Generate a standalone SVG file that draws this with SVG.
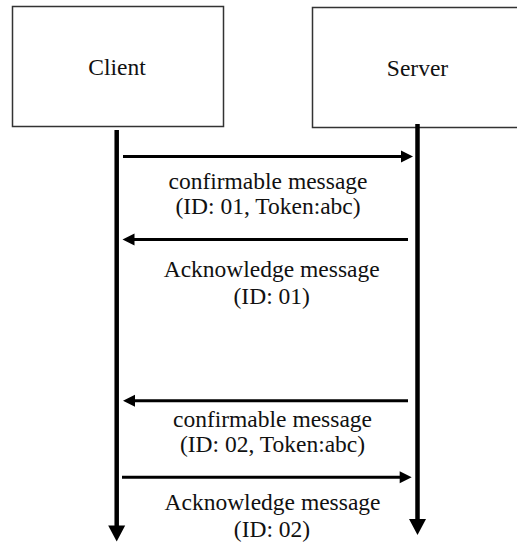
<svg xmlns="http://www.w3.org/2000/svg" width="517" height="544" viewBox="0 0 517 544">
<style>
.box{fill:#fff;stroke:#333;stroke-width:1.5}
.t{font-family:'Liberation Serif','Times New Roman',serif;font-size:23.5px;fill:#111;text-anchor:middle}
.msg{stroke:#000;stroke-width:3;fill:none}
.life{stroke:#000;stroke-width:4.5;fill:none}
</style>
<defs>
<marker id="ah" markerUnits="userSpaceOnUse" markerWidth="13" markerHeight="13" refX="6" refY="6" orient="auto" overflow="visible">
<path d="M0,0 L12,6 L0,12 z" fill="#000"/>
</marker>
<marker id="lh" markerUnits="userSpaceOnUse" markerWidth="18" markerHeight="18" refX="8" refY="8.5" orient="auto" overflow="visible">
<path d="M0,0 L16,8.5 L0,17 z" fill="#000"/>
</marker>
</defs>
<rect width="517" height="544" fill="#fff"/>
<g id="client">
<rect class="box" x="12.5" y="6.5" width="211" height="120"/>
<text class="t" x="117" y="75">Client</text>
</g>
<g id="server">
<rect class="box" x="312.5" y="7.5" width="220" height="120"/>
<text class="t" x="417.5" y="76">Server</text>
</g>
<g id="connectors">
<line class="life" x1="116.7" y1="130" x2="116.7" y2="533.5" marker-end="url(#lh)"/>
<line class="life" x1="417.5" y1="124" x2="417.5" y2="527" marker-end="url(#lh)"/>
<line class="msg" x1="123" y1="156.5" x2="407" y2="156.5" marker-end="url(#ah)"/>
<line class="msg" x1="408" y1="239.5" x2="128.5" y2="239.5" marker-end="url(#ah)"/>
<line class="msg" x1="408" y1="400.7" x2="129" y2="400.7" marker-end="url(#ah)"/>
<line class="msg" x1="122" y1="477.3" x2="405.7" y2="477.3" marker-end="url(#ah)"/>
</g>
<g id="labels">
<text class="t" x="268" y="188.5">confirmable message</text>
<text class="t" x="268" y="213.5">(ID: 01, Token:abc)</text>
<text class="t" x="271.7" y="277">Acknowledge message</text>
<text class="t" x="271.7" y="304">(ID: 01)</text>
<text class="t" x="272.5" y="427">confirmable message</text>
<text class="t" x="272.5" y="452">(ID: 02, Token:abc)</text>
<text class="t" x="272.5" y="510">Acknowledge message</text>
<text class="t" x="272" y="537">(ID: 02)</text>
</g>
</svg>
